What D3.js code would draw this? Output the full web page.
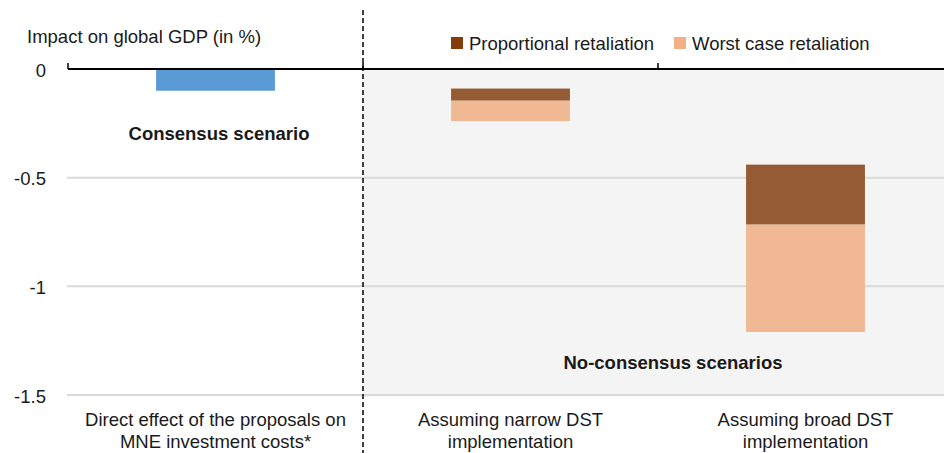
<!DOCTYPE html>
<html>
<head>
<meta charset="utf-8">
<script src="https://cdn.jsdelivr.net/npm/d3@7"></script>
<style>
  body { margin: 0; background: #fff; }
  text { font-family: "Liberation Sans", Arial, sans-serif; fill: #1a1a1a; }
</style>
</head>
<body>
<div id="chart"></div>
<script>
// chart data
var categories = ["direct", "narrow", "broad"];
var categoryLines = [
  ["Direct effect of the proposals on", "MNE investment costs*"],
  ["Assuming narrow DST", "implementation"],
  ["Assuming broad DST", "implementation"]
];
var consensusValues = [-0.1, null, null];
var proportionalStart = [null, -0.09, -0.44];
var proportionalEnd = [null, -0.145, -0.715];
var worstStart = [null, -0.145, -0.715];
var worstEnd = [null, -0.24, -1.21];
var yTicks = [0, -0.5, -1, -1.5];
var legendLabels = ["Proportional retaliation", "Worst case retaliation"];

var width = 944, height = 453;

var svg = d3.select("#chart")
  .append("svg")
    .attr("width", width)
    .attr("height", height);

// scales
var x = d3.scaleBand()
  .domain(categories)
  .range([68, 953])
  .paddingInner(0.597)
  .paddingOuter(0.2985);

var y = d3.scaleLinear()
  .domain([0, -1.5])
  .range([69, 395]);

var step = x.step(), bw = x.bandwidth();

// grey area for no-consensus scenarios
var split = x("narrow") - (step - bw) / 2;
svg.append("rect")
  .attr("x", split)
  .attr("y", y(0))
  .attr("width", width - split)
  .attr("height", y(-1.5) - y(0))
  .style("fill", "#f4f4f4");

// gridlines
svg.selectAll("grid")
  .data(yTicks.slice(1))
  .enter()
  .append("line")
    .attr("x1", 67)
    .attr("x2", width)
    .attr("y1", function(d) { return y(d); })
    .attr("y2", function(d) { return y(d); })
    .style("stroke", "#d9d9d9")
    .style("stroke-width", 2);

// y tick labels (plain hyphen, as in the source)
svg.selectAll("ylab")
  .data(yTicks)
  .enter()
  .append("text")
    .attr("x", 46)
    .attr("y", function(d) { return y(d); })
    .attr("dy", "0.42em")
    .attr("text-anchor", "end")
    .style("font-size", "18.5px")
    .text(function(d) { return String(d); });

// y title
svg.append("text")
  .attr("x", 27)
  .attr("y", 43)
  .style("font-size", "18.5px")
  .text("Impact on global GDP (in %)");

// consensus bar
svg.selectAll("cbar")
  .data(categories.filter(function(c, i) { return consensusValues[i] != null; }))
  .enter()
  .append("rect")
    .attr("x", function(d) { return x(d); })
    .attr("y", y(0))
    .attr("width", bw)
    .attr("height", function(d) { return y(consensusValues[categories.indexOf(d)]) - y(0); })
    .style("fill", "#5b9bd5");

// stacked retaliation bars
function drawSegments(starts, ends, color) {
  svg.selectAll(null)
    .data(categories.filter(function(c, i) { return starts[i] != null; }))
    .enter()
    .append("rect")
      .attr("x", function(d) { return x(d); })
      .attr("y", function(d) { return y(starts[categories.indexOf(d)]); })
      .attr("width", bw)
      .attr("height", function(d) {
        var i = categories.indexOf(d);
        return y(ends[i]) - y(starts[i]);
      })
      .style("fill", color);
}
drawSegments(worstStart, worstEnd, "#f0b994");
drawSegments(proportionalStart, proportionalEnd, "#955b34");

// zero axis line with category ticks
svg.append("line")
  .attr("x1", 68)
  .attr("x2", width)
  .attr("y1", y(0))
  .attr("y2", y(0))
  .style("stroke", "#000")
  .style("stroke-width", 2);

svg.selectAll("xtick")
  .data(categories)
  .enter()
  .append("line")
    .attr("x1", function(d) { return x(d) - (step - bw) / 2; })
    .attr("x2", function(d) { return x(d) - (step - bw) / 2; })
    .attr("y1", y(0) - 6)
    .attr("y2", y(0))
    .style("stroke", "#000")
    .style("stroke-width", 1.5);

// dashed separator
svg.append("line")
  .attr("x1", split)
  .attr("x2", split)
  .attr("y1", 10)
  .attr("y2", height)
  .style("stroke", "#000")
  .style("stroke-width", 1.5)
  .style("stroke-dasharray", "5,3");

// category labels
categoryLines.forEach(function(lines, i) {
  var t = svg.append("text")
    .attr("text-anchor", "middle")
    .style("font-size", "18.5px");
  lines.forEach(function(l, j) {
    t.append("tspan")
      .attr("x", x(categories[i]) + bw / 2)
      .attr("y", 426 + j * 22)
      .text(l);
  });
});

// scenario annotations
svg.append("text")
  .attr("x", 219)
  .attr("y", 140)
  .attr("text-anchor", "middle")
  .style("font-size", "18.5px")
  .style("font-weight", "bold")
  .text("Consensus scenario");

svg.append("text")
  .attr("x", 673)
  .attr("y", 369)
  .attr("text-anchor", "middle")
  .style("font-size", "18.5px")
  .style("font-weight", "bold")
  .text("No-consensus scenarios");

// legend
var legendX = [451, 674];
var legendColors = ["#843c0c", "#f4b183"];
svg.selectAll("legsq")
  .data(legendLabels)
  .enter()
  .append("rect")
    .attr("x", function(d, i) { return legendX[i]; })
    .attr("y", 37)
    .attr("width", 12)
    .attr("height", 12)
    .style("fill", function(d, i) { return legendColors[i]; });

svg.selectAll("legtxt")
  .data(legendLabels)
  .enter()
  .append("text")
    .attr("x", function(d, i) { return legendX[i] + 18; })
    .attr("y", 50)
    .style("font-size", "18.5px")
    .text(function(d) { return d; });
</script>
</body>
</html>
